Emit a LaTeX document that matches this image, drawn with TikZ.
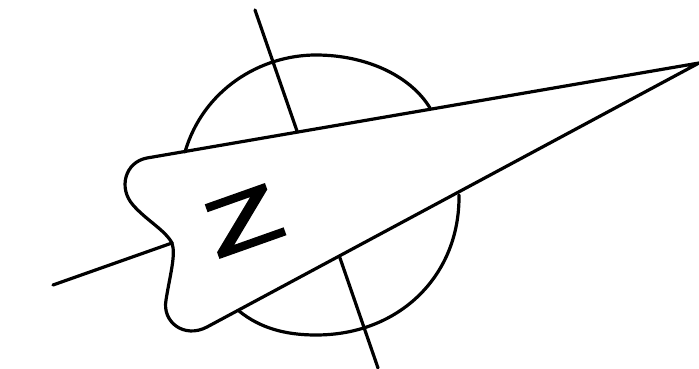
\documentclass[tikz,border=0pt]{standalone}
\usepackage{fontspec}
\setmainfont{Liberation Sans}
\newfontfamily\zfont[FakeBold=3]{Liberation Sans}
\begin{document}
\begin{tikzpicture}[x=1pt,y=-1pt,lw/.style={line width=3.2pt,line cap=round,line join=round}]
\useasboundingbox (0,0) rectangle (699,369);
\draw[lw] (255,10) -- (297,131);
\draw[lw] (340,258) -- (378,368);
\draw[lw] (53,285) -- (172,243);
\draw[lw] (185,152) .. controls (203,90) and (260,55) .. (316,55) .. controls (365,55) and (410,75) .. (430,108);
\draw[lw] (459,195) .. controls (460,275) and (400,335) .. (316,335) .. controls (285,335) and (260,328) .. (239,311);
\draw[lw] (699,63) -- (147,158) .. controls (125,162) and (118,188) .. (133,205) .. controls (146,220) and (165,230) .. (172,243) .. controls (176,255) and (170,275) .. (166,300) .. controls (162,322) and (184,339) .. (207,327) -- (699,63);
\node[font=\zfont, rotate=19.5, inner sep=0pt] (z) at (243.5,220.5) {\resizebox{75pt}{54pt}{Z}};
\end{tikzpicture}
\end{document}
